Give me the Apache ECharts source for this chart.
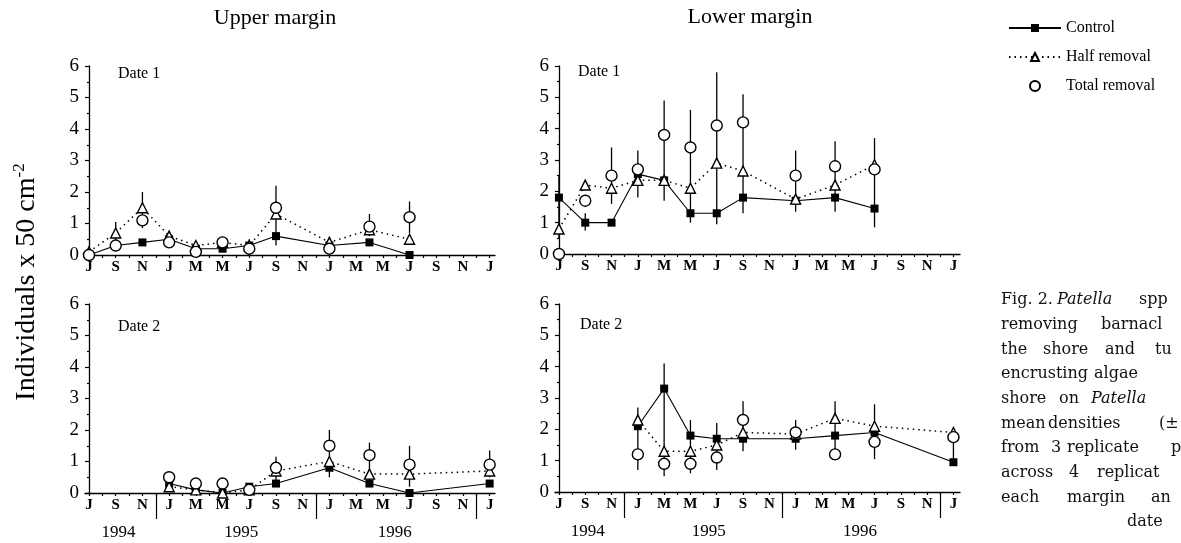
<!DOCTYPE html>
<html><head><meta charset="utf-8">
<script src="https://cdn.jsdelivr.net/npm/echarts@6/dist/echarts.min.js"></script>
<style>html,body{margin:0;padding:0;background:#fff}#c{width:1181px;height:543px}</style>
</head><body><div id="c"></div>
<script>
// ---- tick labels / categories ----
const tickLabels = ['J','S','N','J','M','M','J','S','N','J','M','M','J','S','N','J']; // Jul 94 .. Jan 97, every 2 months
const years = ['1994','1995','1996'];
const yearLabelMonths = [2.2, 11.4, 22.9];
const yearBreakMonths = [5, 17, 29];
const treatments = ['Control','Half removal','Total removal'];

// months since July 1994
// ---- Upper margin, Date 1 ----
const upper1Months  = [0, 2, 4, 6, 8, 10, 12, 14, 18, 21, 24];
const upper1Control = [0.0, 0.3, 0.4, 0.5, 0.2, 0.2, 0.3, 0.6, 0.3, 0.4, 0.0];
const upper1Half    = [0.1, 0.7, 1.5, 0.6, 0.3, 0.4, 0.3, 1.3, 0.4, 0.8, 0.5];
const upper1Total   = [0.0, 0.3, 1.1, 0.4, 0.1, 0.4, 0.2, 1.5, 0.2, 0.9, 1.2];
const upper1Err = [[2,0.4,1.05],[4,0.85,2.0],[12,0.1,0.5],[14,0.3,2.2],[21,0.6,1.3],[24,0.7,1.7]];

// ---- Lower margin, Date 1 ----
const lower1Months  = [0, 2, 4, 6, 8, 10, 12, 14, 18, 21, 24];
const lower1Control = [1.8, 1.0, 1.0, 2.55, 2.35, 1.3, 1.3, 1.8, 1.7, 1.8, 1.45];
const lower1Half    = [0.8, 2.2, 2.1, 2.35, 2.35, 2.1, 2.9, 2.65, 1.75, 2.2, 2.85];
const lower1Total   = [0.0, 1.7, 2.5, 2.7, 3.8, 3.4, 4.1, 4.2, 2.5, 2.8, 2.7];
const lower1Err = [[0,0.5,2.5],[2,0.75,1.3],[4,1.6,3.4],[6,1.8,3.3],[8,1.7,4.9],[10,1.0,4.6],
                   [12,0.95,5.8],[14,1.3,5.1],[18,1.35,3.3],[21,1.35,3.6],[24,0.85,3.7]];

// ---- Upper margin, Date 2 ----
const upper2Months  = [6, 8, 10, 12, 14, 18, 21, 24, 30];
const upper2Control = [0.3, 0.1, 0.0, 0.2, 0.3, 0.8, 0.3, 0.0, 0.3];
const upper2Half    = [0.2, 0.1, 0.0, 0.1, 0.7, 1.0, 0.6, 0.6, 0.7];
const upper2Total   = [0.5, 0.3, 0.3, 0.1, 0.8, 1.5, 1.2, 0.9, 0.9];
const upper2Err = [[14,0.4,1.15],[18,0.5,2.0],[21,0.3,1.6],[24,0.2,1.5],[30,0.5,1.35]];

// ---- Lower margin, Date 2 ----
const lower2Months  = [6, 8, 10, 12, 14, 18, 21, 24, 30];
const lower2Control = [2.1, 3.3, 1.8, 1.7, 1.7, 1.7, 1.8, 1.9, 0.95];
const lower2Half    = [2.3, 1.3, 1.3, 1.5, 1.9, 1.85, 2.35, 2.1, 1.9];
const lower2Total   = [1.2, 0.9, 0.9, 1.1, 2.3, 1.9, 1.2, 1.6, 1.75];
const lower2Err = [[6,0.7,2.7],[8,0.5,4.1],[10,0.6,2.3],[12,0.7,2.2],[14,1.3,2.9],[18,1.35,2.3],
                   [21,1.2,2.9],[24,1.05,2.8],[30,0.85,2.0]];

// ---- caption (justified words, offsets from the caption's left edge) ----
const captionLines = [
  [['Fig. 2.',0],['Patella',56,true],['spp',138]],
  [['removing',0],['barnacl',100]],
  [['the',0],['shore',42],['and',104],['tu',154]],
  [['encrusting',0],['algae',93]],
  [['shore',0],['on',58],['Patella',90,true]],
  [['mean',0],['densities',47],['(±',158]],
  [['from',0],['3',50],['replicate',66],['p',170]],
  [['across',0],['4',68],['replicat',96]],
  [['each',0],['margin',66],['an',150]],
  [['date',126]]
];

const SERIF = 'Liberation Serif';
const panels = [
  {months: upper1Months, ctrl: upper1Control, half: upper1Half, total: upper1Total, err: upper1Err},
  {months: lower1Months, ctrl: lower1Control, half: lower1Half, total: lower1Total, err: lower1Err},
  {months: upper2Months, ctrl: upper2Control, half: upper2Half, total: upper2Total, err: upper2Err},
  {months: lower2Months, ctrl: lower2Control, half: lower2Half, total: lower2Total, err: lower2Err}
];
const grids = [
  {left: 85,  top: 66,  width: 410, height: 189},
  {left: 555, top: 66,  width: 405, height: 188},
  {left: 85,  top: 304, width: 410, height: 189},
  {left: 555, top: 304, width: 405, height: 188}
];
const monthTicks = Array.from({length: 31}, (_, i) => i);
const labelTicks = monthTicks.filter(m => m % 2 === 0);

function monthAxis(gi, max) {
  return {
    type: 'value', gridIndex: gi, min: -0.3, max: max,
    axisLine: {lineStyle: {color: '#000', width: 1.3}},
    axisTick: {customValues: monthTicks, length: 3, lineStyle: {color: '#000', width: 1.2}},
    axisLabel: {customValues: labelTicks, formatter: v => tickLabels[Math.round(v / 2)],
      color: '#000', fontFamily: SERIF, fontSize: 15, fontWeight: 'bold', margin: 5},
    splitLine: {show: false}
  };
}
function yearAxis(gi, max) {
  return {
    type: 'value', gridIndex: gi, min: -0.3, max: max, position: 'bottom',
    axisLine: {show: false},
    axisTick: {customValues: yearBreakMonths, length: 26, lineStyle: {color: '#000', width: 1.2}},
    axisLabel: {customValues: yearLabelMonths, formatter: v => years[yearLabelMonths.indexOf(v)],
      color: '#000', fontFamily: SERIF, fontSize: 17, margin: 31},
    splitLine: {show: false}
  };
}
function yAxis(gi) {
  return {
    type: 'value', gridIndex: gi, min: 0, max: 6, interval: 1,
    axisLine: {show: true, lineStyle: {color: '#000', width: 1.3}},
    axisTick: {show: true, length: 4, lineStyle: {color: '#000', width: 1.2}},
    minorTick: {show: true, splitNumber: 2, length: 2, lineStyle: {color: '#000', width: 1.2}},
    axisLabel: {color: '#000', fontFamily: SERIF, fontSize: 19, margin: 6},
    splitLine: {show: false}
  };
}

const xAxes = [monthAxis(0, 30.4), monthAxis(1, 30.5), monthAxis(2, 30.4), monthAxis(3, 30.5),
               yearAxis(2, 30.4), yearAxis(3, 30.5)];
const yAxes = [yAxis(0), yAxis(1), yAxis(2), yAxis(3)];

function errRender(params, api) {
  const p1 = api.coord([api.value(0), api.value(1)]);
  const p2 = api.coord([api.value(0), api.value(2)]);
  return {type: 'line', shape: {x1: p1[0], y1: p1[1], x2: p2[0], y2: p2[1]},
          style: {stroke: '#000', lineWidth: 1.3}};
}

const series = [];
panels.forEach((p, i) => {
  const zip = arr => p.months.map((m, k) => [m, arr[k]]);
  series.push({type: 'custom', xAxisIndex: i, yAxisIndex: i, renderItem: errRender,
    encode: {x: 0, y: [1, 2]}, data: p.err, z: 1, silent: true});
  series.push({name: 'Control', type: 'line', xAxisIndex: i, yAxisIndex: i, data: zip(p.ctrl),
    symbol: 'rect', symbolSize: 8, showAllSymbol: true, z: 2,
    lineStyle: {color: '#000', width: 1.1}, itemStyle: {color: '#000'}});
  series.push({name: 'Half removal', type: 'line', xAxisIndex: i, yAxisIndex: i, data: zip(p.half),
    symbol: 'triangle', symbolSize: 10, showAllSymbol: true, z: 3,
    lineStyle: {color: '#000', width: 1.5, type: [1.5, 4]},
    itemStyle: {color: '#fff', borderColor: '#000', borderWidth: 1.4}});
  series.push({name: 'Total removal', type: 'scatter', xAxisIndex: i, yAxisIndex: i, data: zip(p.total),
    symbol: 'circle', symbolSize: 11, z: 4,
    itemStyle: {color: '#fff', borderColor: '#000', borderWidth: 1.4, opacity: 1}});
});

const graphics = [
  {type: 'text', x: 275, y: 18, style: {text: 'Upper margin', fontFamily: SERIF, fontSize: 22, fill: '#000', align: 'center', verticalAlign: 'middle'}},
  {type: 'text', x: 750, y: 17, style: {text: 'Lower margin', fontFamily: SERIF, fontSize: 22, fill: '#000', align: 'center', verticalAlign: 'middle'}},
  {type: 'text', x: 118, y: 74, style: {text: 'Date 1', fontFamily: SERIF, fontSize: 16, fill: '#000', verticalAlign: 'middle'}},
  {type: 'text', x: 578, y: 72, style: {text: 'Date 1', fontFamily: SERIF, fontSize: 16, fill: '#000', verticalAlign: 'middle'}},
  {type: 'text', x: 118, y: 327, style: {text: 'Date 2', fontFamily: SERIF, fontSize: 16, fill: '#000', verticalAlign: 'middle'}},
  {type: 'text', x: 580, y: 325, style: {text: 'Date 2', fontFamily: SERIF, fontSize: 16, fill: '#000', verticalAlign: 'middle'}},
  {type: 'text', x: 27, y: 282, rotation: Math.PI / 2,
    style: {text: 'Individuals x 50 cm{sup|-2}', fontFamily: SERIF, fontSize: 28, fill: '#000',
      align: 'center', verticalAlign: 'middle',
      rich: {sup: {fontFamily: SERIF, fontSize: 17, fill: '#000', padding: [0, 0, 15, 0]}}}}
];
captionLines.forEach((line, li) => {
  line.forEach(w => {
    graphics.push({type: 'text', x: 1001 + w[1], y: 300 + li * 24.7,
      style: {text: w[0], fontFamily: 'DejaVu Serif', fontSize: 16, fontStyle: w[2] ? 'italic' : 'normal',
        fill: '#111', verticalAlign: 'middle'}});
  });
});

const chart = echarts.init(document.getElementById('c'), null, {renderer: 'canvas'});
chart.setOption({
  animation: false,
  backgroundColor: '#fff',
  grid: grids.map(g => Object.assign({containLabel: false}, g)),
  xAxis: xAxes,
  yAxis: yAxes,
  legend: {data: treatments, orient: 'vertical', left: 1003, top: 15, itemWidth: 52, itemHeight: 10, itemGap: 13,
    textStyle: {fontFamily: SERIF, fontSize: 16, color: '#000'}},
  series: series,
  graphic: graphics
});
</script></body></html>
